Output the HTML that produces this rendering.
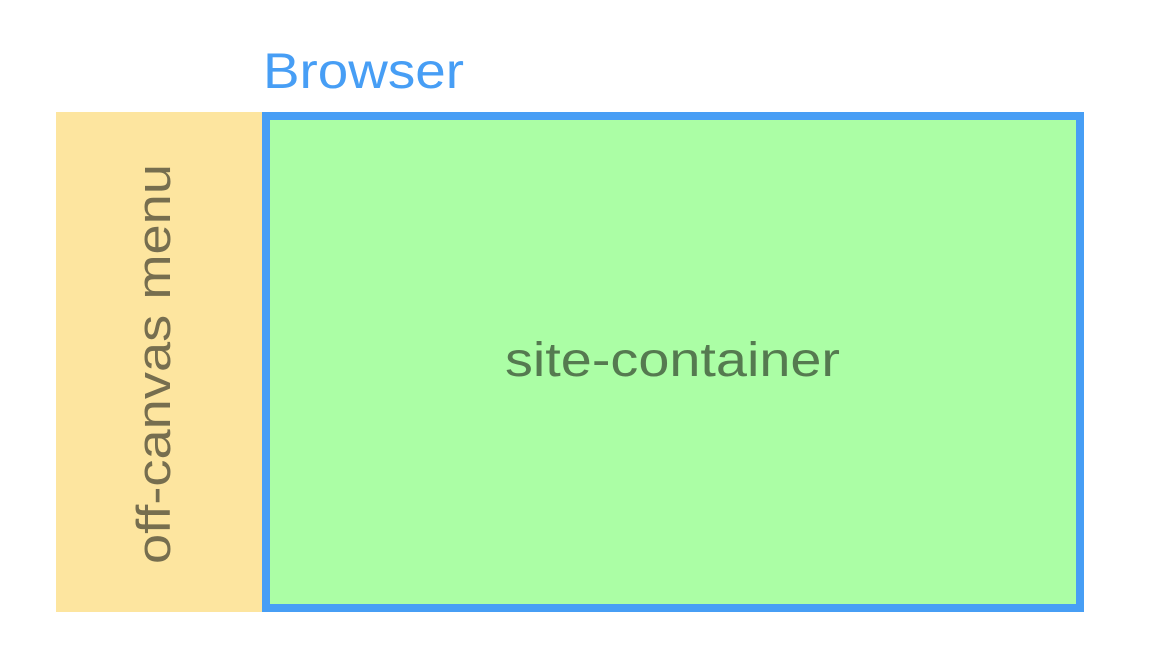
<!DOCTYPE html>
<html><head><style>body{margin:0;background:#fff}</style></head>
<body>
<svg width="1150" height="672" xmlns="http://www.w3.org/2000/svg" style="display:block">
<rect x="0" y="0" width="1150" height="672" fill="#fff"/>
<rect x="56" y="112" width="208" height="500" fill="#fde59f"/>
<rect x="266" y="116" width="814" height="492" fill="#abfea5" stroke="#479ef5" stroke-width="8"/>
<text x="263" y="88" font-family="Liberation Sans, sans-serif" font-size="50" fill="#479ef5" textLength="201" lengthAdjust="spacingAndGlyphs">Browser</text>
<text x="505" y="376" font-family="Liberation Sans, sans-serif" font-size="48" fill="#557a50" textLength="335" lengthAdjust="spacingAndGlyphs">site-container</text>
<text transform="translate(170,564) rotate(-90)" x="0" y="0" font-family="Liberation Sans, sans-serif" font-size="47" fill="#766e4f" textLength="400" lengthAdjust="spacingAndGlyphs">off-canvas menu</text>
</svg>
</body></html>
